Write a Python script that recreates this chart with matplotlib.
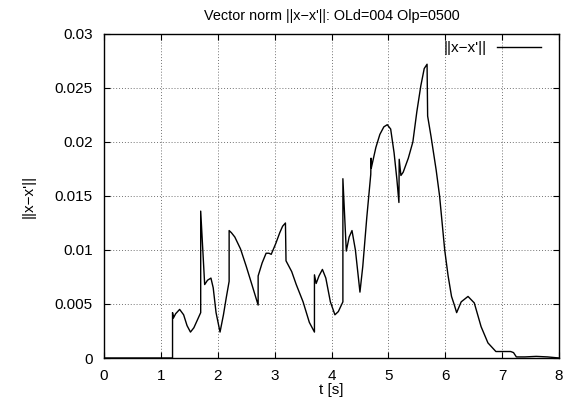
import numpy as np
import matplotlib
matplotlib.use("Agg")
import matplotlib.pyplot as plt

plt.rcParams["font.family"] = ["Liberation Sans", "DejaVu Sans"]
plt.rcParams["font.size"] = 11

# values (time in s, norm)
t = [0.0, 1.205, 1.205, 1.22, 1.26, 1.33, 1.40, 1.46, 1.52, 1.58, 1.64, 1.70,
     1.70, 1.77, 1.82, 1.88, 1.92, 1.97, 2.04, 2.10, 2.15, 2.20,
     2.20, 2.24, 2.30, 2.40, 2.50, 2.60, 2.71,
     2.71, 2.78, 2.85, 2.90, 2.94, 3.02, 3.09, 3.14, 3.19,
     3.20, 3.30, 3.38, 3.50, 3.61, 3.70,
     3.70, 3.73, 3.78, 3.84, 3.90, 3.98, 4.06, 4.12, 4.20,
     4.20, 4.26, 4.31, 4.36, 4.42, 4.50, 4.55, 4.62, 4.69,
     4.695, 4.70, 4.78, 4.85, 4.92, 4.98, 5.04, 5.10, 5.15, 5.185,
     5.19, 5.22, 5.26, 5.35, 5.43, 5.50, 5.57, 5.63, 5.68,
     5.69, 5.75, 5.84, 5.90, 5.99, 6.05, 6.11, 6.16, 6.20, 6.28, 6.40,
     6.51, 6.63, 6.75, 6.89, 7.00, 7.15, 7.20, 7.25, 7.40, 7.60, 7.80, 8.00]
norm = [0.0, 0.0, 0.0042, 0.0037, 0.0041, 0.0045, 0.0040, 0.0030, 0.0024, 0.0028, 0.0035, 0.0042,
        0.0136, 0.0068, 0.0072, 0.0074, 0.0065, 0.0042, 0.0024, 0.0040, 0.0056, 0.0071,
        0.0118, 0.0116, 0.0112, 0.0101, 0.0085, 0.0068, 0.0049,
        0.0076, 0.0088, 0.0097, 0.0097, 0.0096, 0.0106, 0.0116, 0.0122, 0.0125,
        0.0090, 0.0080, 0.0068, 0.0052, 0.0033, 0.0024,
        0.0077, 0.0069, 0.0076, 0.0082, 0.0074, 0.0052, 0.0040, 0.0043, 0.0052,
        0.0166, 0.0099, 0.0112, 0.0118, 0.0100, 0.0061, 0.0085, 0.0130, 0.0170,
        0.0185, 0.0176, 0.0195, 0.0207, 0.0214, 0.0216, 0.0212, 0.0190, 0.0165, 0.0144,
        0.0184, 0.0169, 0.0172, 0.0185, 0.0200, 0.0228, 0.0252, 0.0268, 0.0272,
        0.0224, 0.0205, 0.0174, 0.0150, 0.0100, 0.0076, 0.0057, 0.0049, 0.0042, 0.0052, 0.0057,
        0.0051, 0.0029, 0.0014, 0.0006, 0.0006, 0.0006, 0.0005, 0.0001, 0.0001, 0.00015, 0.0001, 0.0]

x_ticks = [0, 1, 2, 3, 4, 5, 6, 7, 8]
y_ticks = [0, 0.005, 0.01, 0.015, 0.02, 0.025, 0.03]
y_labels = ["0", "0.005", "0.01", "0.015", "0.02", "0.025", "0.03"]

fig = plt.figure(figsize=(5.68, 3.98), dpi=100)
ax = fig.add_axes([0.1831, 0.1005, 0.8011, 0.8141])

ax.plot(t, norm, color="black", lw=1.0, label="||x\u2212x'||")

ax.set_xlim(0, 8)
ax.set_ylim(0, 0.03)
ax.set_xticks(x_ticks)
ax.set_xticklabels([str(v) for v in x_ticks])
ax.set_yticks(y_ticks)
ax.set_yticklabels(y_labels)
ax.tick_params(direction="in", length=4, width=0.8, top=True, right=True)
ax.tick_params(axis="y", pad=8)
ax.tick_params(axis="x", pad=8)
ax.grid(True, color="0.45", lw=0.7, linestyle=(0, (1, 2)))
for s in ax.spines.values():
    s.set_linewidth(1.0)

ax.set_title("Vector norm ||x\u2212x'||: OLd=004 Olp=0500", fontsize=10.4, pad=10)
ax.set_xlabel("t [s]", va="center")
ax.xaxis.set_label_coords(0.5, -0.098)
ax.set_ylabel("||x\u2212x'||", va="center")
ax.yaxis.set_label_coords(-0.165, 0.5)

ax.legend(loc="center right", bbox_to_anchor=(0.9604, 0.957), frameon=False,
          markerfirst=False, handlelength=2.9, handletextpad=0.65,
          borderpad=0, borderaxespad=0)

fig.savefig("out.png", dpi=100)
